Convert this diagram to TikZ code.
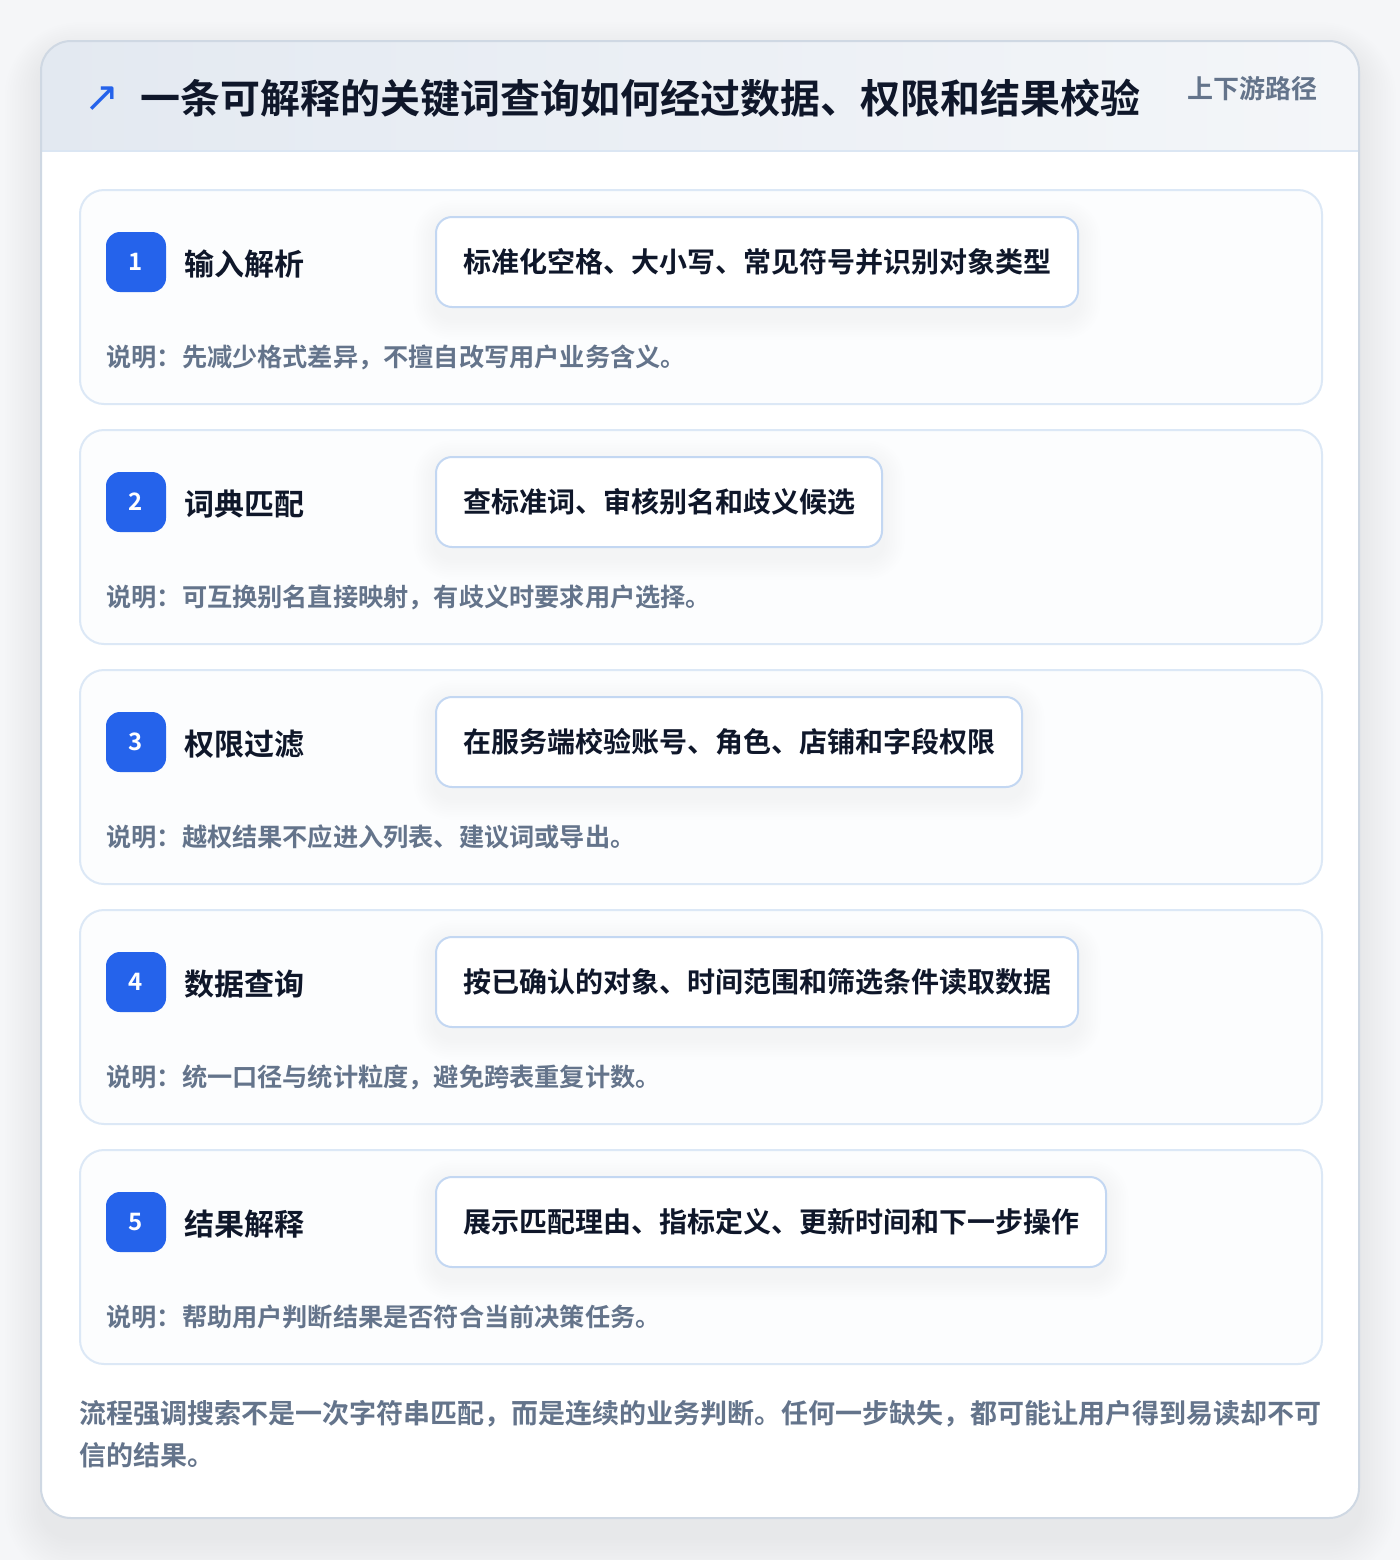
\documentclass[tikz,border=0pt]{standalone}
\usepackage{fontspec}
\setmainfont{Noto Sans CJK SC}[BoldFont={Noto Sans CJK SC Bold}]
\newfontfamily\symfont{DejaVu Sans}
\pgfdeclarelayer{lpage}
\pgfdeclarelayer{lshadow}
\pgfdeclarelayer{lcard}
\pgfdeclarelayer{lboxshadow}
\pgfsetlayers{lpage,lshadow,lcard,lboxshadow,main}
\definecolor{pagebg}{HTML}{F5F6F8}
\definecolor{cardline}{HTML}{CFD8E3}
\definecolor{headL}{HTML}{E3E9F1}
\definecolor{headR}{HTML}{F4F6F9}
\definecolor{headline}{HTML}{DBE6F3}
\definecolor{stepfill}{HTML}{FCFDFE}
\definecolor{stepline}{HTML}{DCE8F6}
\definecolor{boxline}{HTML}{C3D7F2}
\definecolor{ink}{HTML}{0F172A}
\definecolor{mute}{HTML}{64748B}
\definecolor{accent}{HTML}{2563EB}
\tikzset{
  stepcard/.style={draw=stepline, line width=1pt, fill=stepfill, rounded corners=12pt,
    minimum width=621pt, minimum height=107pt, inner sep=0pt, anchor=north west},
  badge/.style={fill=accent, rounded corners=7pt, minimum width=30pt, minimum height=30pt,
    inner sep=0pt, text=white, font=\bfseries\fontsize{12pt}{14pt}\selectfont},
  steptitle/.style={anchor=west, inner sep=0pt, text=ink, font=\bfseries\fontsize{15pt}{18pt}\selectfont},
  actbox/.style={draw=boxline, line width=1pt, fill=white, rounded corners=8pt, anchor=west,
    minimum height=45pt, inner xsep=13.5pt, inner ysep=0pt, text=ink,
    font=\bfseries\fontsize{14pt}{17pt}\selectfont},
  note/.style={anchor=west, inner sep=0pt, text=mute, font=\bfseries\fontsize{12.6pt}{15pt}\selectfont},
  shadowlayer/.style={fill=black, fill opacity=#1},
}
\begin{document}
\begin{tikzpicture}[x=0.5pt,y=-0.5pt]
\useasboundingbox (0,0) rectangle (1400,1560);
\begin{pgfonlayer}{lpage}
\fill[pagebg] (0,0) rectangle (1400,1560);
\end{pgfonlayer}
% main card
\begin{pgfonlayer}{lcard}
\node[fill=white, rounded corners=15pt, minimum width=659pt, minimum height=738.5pt,
  inner sep=0pt, anchor=north west] (card) at (41,41) {};
\begin{scope}
  \clip[rounded corners=15pt] (41,41) rectangle (1359,1518);
  \shade[left color=headL, right color=headR] (41,41) rectangle (1359,151);
\end{scope}
\end{pgfonlayer}
\begin{pgfonlayer}{lshadow}
\foreach \k in {1,...,14}{
  \pgfmathsetmacro{\r}{15+\k*1.6}
  \fill[shadowlayer=0.0045, rounded corners=\r pt]
    ([xshift=-\k*1.3pt, yshift=-9pt-\k*1.6pt]card.south west) rectangle
    ([xshift=\k*1.3pt, yshift=-6pt+\k*1.1pt]card.north east);
}
\end{pgfonlayer}
\draw[headline, line width=1pt] (41.5,151) -- (1358.5,151);
\draw[cardline, line width=1pt, rounded corners=15pt] (41,41) rectangle (1359,1518);
% header
\node[anchor=center, inner sep=0pt, text=accent, font=\symfont\fontsize{21pt}{24pt}\selectfont] (icon) at (102,99) {↗};
\node[anchor=west, inner sep=0pt, text=ink, font=\bfseries\fontsize{20pt}{24pt}\selectfont] (title) at (140,98) {一条可解释的关键词查询如何经过数据、权限和结果校验};
\node[anchor=east, inner sep=0pt, text=mute, font=\bfseries\fontsize{13pt}{16pt}\selectfont] (sub) at (1318,89) {上下游路径};
% steps
\foreach \i/\name/\act/\desc in {
  1/输入解析/标准化空格、大小写、常见符号并识别对象类型/说明：先减少格式差异，不擅自改写用户业务含义。,
  2/词典匹配/查标准词、审核别名和歧义候选/说明：可互换别名直接映射，有歧义时要求用户选择。,
  3/权限过滤/在服务端校验账号、角色、店铺和字段权限/说明：越权结果不应进入列表、建议词或导出。,
  4/数据查询/按已确认的对象、时间范围和筛选条件读取数据/说明：统一口径与统计粒度，避免跨表重复计数。,
  5/结果解释/展示匹配理由、指标定义、更新时间和下一步操作/说明：帮助用户判断结果是否符合当前决策任务。}{
  \pgfmathsetmacro{\yy}{189+(\i-1)*240}
  \begin{pgfonlayer}{lcard}
  \node[stepcard] (card\i) at (79,\yy) {};
  \end{pgfonlayer}
  \node[badge] (badge\i) at (136,\yy+73) {\i};
  \node[steptitle] (name\i) at (184,\yy+75) {\name};
  \node[actbox] (act\i) at (435,\yy+73) {\act};
  \begin{pgfonlayer}{lboxshadow}
  \foreach \k in {1,...,9}{
    \pgfmathsetmacro{\r}{8+\k*1.2}
    \fill[shadowlayer=0.005, rounded corners=\r pt]
      ([xshift=-\k*1.2pt, yshift=-5pt-\k*1.2pt]act\i.south west) rectangle
      ([xshift=\k*1.2pt, yshift=-3pt+\k*1.2pt]act\i.north east);
  }
  \end{pgfonlayer}
  \node[note] (desc\i) at (106,\yy+168) {\desc};
}
% footer
\node[anchor=north west, inner sep=0pt, text=mute, align=left,
  font=\bfseries\fontsize{13.5pt}{21pt}\selectfont] (foot) at (79,1400)
  {流程强调搜索不是一次字符串匹配，而是连续的业务判断。任何一步缺失，都可能让用户得到易读却不可\\信的结果。};
\end{tikzpicture}
\end{document}
